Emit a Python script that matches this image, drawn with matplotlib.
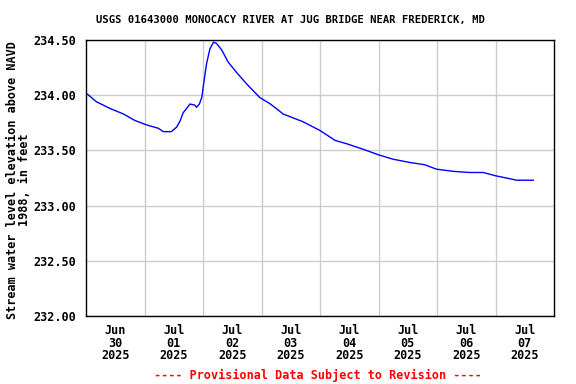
### Stream water level plot (USGS style)
###

import matplotlib
matplotlib.use("Agg")
import matplotlib.pyplot as plt
import pandas as pd

times = [
    "2025-06-30 00:00", "2025-06-30 04:20", "2025-06-30 09:50", "2025-06-30 15:20",
    "2025-06-30 20:10", "2025-07-01 01:00", "2025-07-01 05:45", "2025-07-01 07:40",
    "2025-07-01 11:00", "2025-07-01 13:10", "2025-07-01 14:40", "2025-07-01 15:50",
    "2025-07-01 18:40", "2025-07-01 20:40", "2025-07-01 21:20", "2025-07-01 22:30",
    "2025-07-01 23:30", "2025-07-02 00:30", "2025-07-02 01:30", "2025-07-02 02:50",
    "2025-07-02 04:20", "2025-07-02 05:30", "2025-07-02 07:40", "2025-07-02 10:20",
    "2025-07-02 14:00", "2025-07-02 18:00", "2025-07-02 23:15", "2025-07-03 03:40",
    "2025-07-03 07:10", "2025-07-03 08:50", "2025-07-03 17:00", "2025-07-04 00:00",
    "2025-07-04 06:15", "2025-07-04 11:00", "2025-07-04 17:45", "2025-07-05 00:00",
    "2025-07-05 06:00", "2025-07-05 13:00", "2025-07-05 19:00", "2025-07-05 23:45",
    "2025-07-06 06:45", "2025-07-06 13:25", "2025-07-06 19:00", "2025-07-07 00:00",
    "2025-07-07 04:30", "2025-07-07 08:40", "2025-07-07 15:30",
]
elevation = [
    234.02, 233.94, 233.88, 233.83,
    233.77, 233.73, 233.70, 233.67,
    233.67, 233.71, 233.77, 233.84,
    233.92, 233.91, 233.89, 233.92,
    233.98, 234.14, 234.29, 234.42,
    234.48, 234.47, 234.41, 234.30,
    234.20, 234.10, 233.98, 233.92,
    233.86, 233.83, 233.76, 233.68,
    233.59, 233.56, 233.51, 233.46,
    233.42, 233.39, 233.37, 233.33,
    233.31, 233.30, 233.30, 233.27,
    233.25, 233.23, 233.23,
]
day_labels = ["Jun\n30\n2025", "Jul\n01\n2025", "Jul\n02\n2025", "Jul\n03\n2025",
              "Jul\n04\n2025", "Jul\n05\n2025", "Jul\n06\n2025", "Jul\n07\n2025"]
y_ticks = [232.0, 232.5, 233.0, 233.5, 234.0, 234.5]

t = pd.to_datetime(times)
font = {"family": "DejaVu Sans Mono", "weight": "bold", "size": 8.5}

fig = plt.figure(figsize=(5.76, 3.84), dpi=100)
ax = fig.add_axes([86 / 576, 1 - 316 / 384, 468 / 576, 276 / 384])

ax.plot(t, elevation, color="#0000ff", linewidth=1.0)

start = pd.Timestamp("2025-06-30")
ax.set_xlim(start, start + pd.Timedelta(days=8))
ax.set_ylim(232.0, 234.5)

# gridlines at midnight, labels at noon
midnights = [start + pd.Timedelta(days=i) for i in range(1, 8)]
noons = [start + pd.Timedelta(days=i, hours=12) for i in range(8)]
ax.set_xticks(midnights)
ax.set_xticklabels([])
ax.set_xticks(noons, minor=True)
ax.set_xticklabels(day_labels, minor=True, fontdict=font, linespacing=0.95)
ax.tick_params(axis="x", which="both", length=0, pad=6)

ax.set_yticks(y_ticks)
ax.set_yticklabels([f"{v:.2f}" for v in y_ticks], fontdict=font)
ax.tick_params(axis="y", length=0, pad=7)

ax.grid(True, which="major", color="#cccccc", linewidth=1.0)
ax.set_axisbelow(True)
for s in ax.spines.values():
    s.set_linewidth(1.0)
    s.set_color("black")

fig.text(18.5 / 576, 1 - 180 / 384, "Stream water level elevation above NAVD\n1988, in feet",
         ha="center", va="center", rotation=90, linespacing=0.95, multialignment="center", **font)
fig.text(290 / 576, 1 - 20 / 384, "USGS 01643000 MONOCACY RIVER AT JUG BRIDGE NEAR FREDERICK, MD",
         ha="center", va="center", family="DejaVu Sans Mono", weight="bold", size=7.6)
fig.text(318 / 576, 1 - 375 / 384, "---- Provisional Data Subject to Revision ----",
         ha="center", va="center", color="red", **font)

fig.savefig("out.png", dpi=100)
